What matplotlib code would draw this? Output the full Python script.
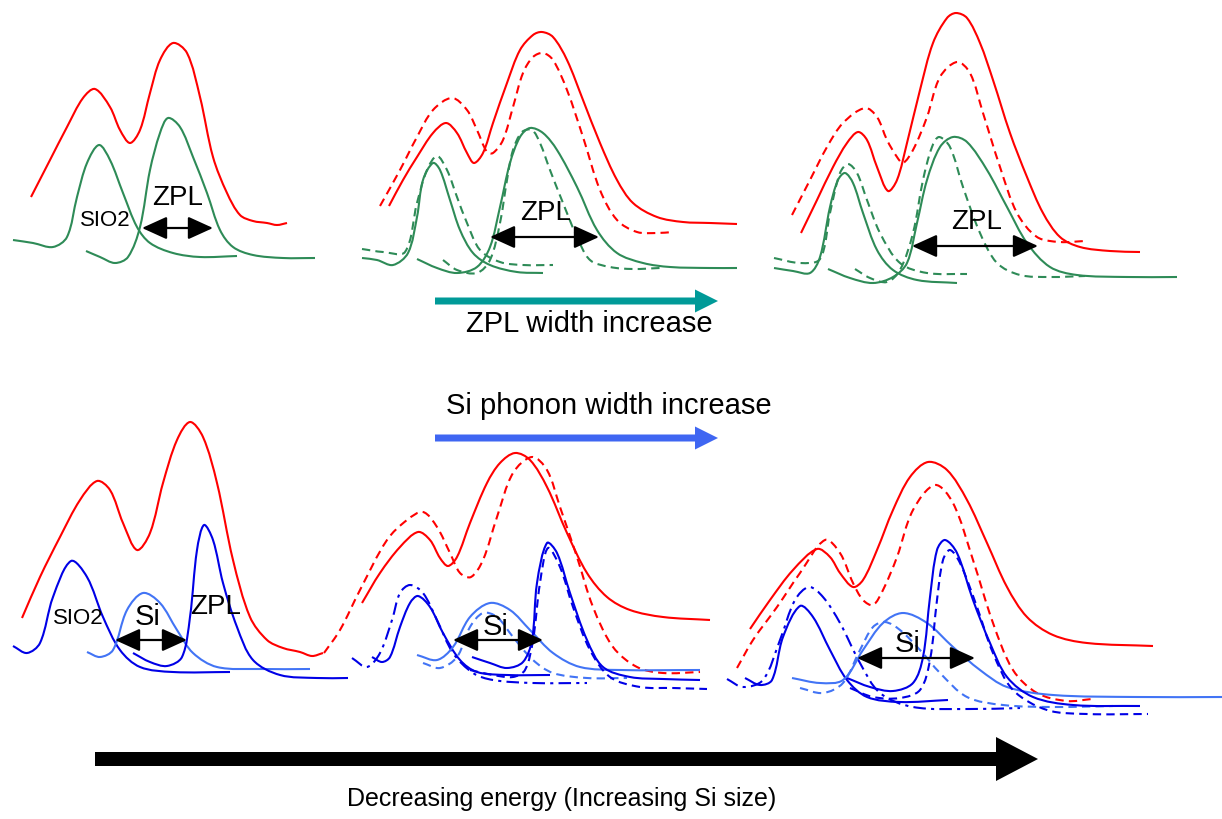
import matplotlib.pyplot as plt
import numpy as np
from matplotlib.path import Path
from matplotlib.patches import PathPatch

plt.rcParams['font.family'] = ['Liberation Sans', 'DejaVu Sans']

# curve key points (x, y) - y grows downwards
# top row, left panel
t1_red = [(31, 197), (50, 160), (67, 127), (83, 98), (95, 89), (110, 107), (120, 130), (130, 143),
          (140, 130), (150, 93), (160, 60), (173, 43), (187, 53), (200, 97), (213, 157), (227, 193),
          (240, 215), (253, 221), (267, 223), (277, 225), (287, 223)]
t1_sio2 = [(13, 240), (33, 243), (53, 247), (67, 237), (77, 197), (87, 163), (99, 145), (110, 160),
           (123, 193), (137, 227), (150, 243), (173, 253), (200, 257), (237, 256)]
t1_zpl = [(86, 251), (100, 257), (115, 263), (128, 257), (140, 227), (150, 170), (160, 133), (168, 118),
          (180, 127), (193, 157), (207, 193), (220, 230), (233, 247), (253, 255), (283, 258), (315, 258)]

# top row, middle panel
t2_red = [(389, 206), (403, 180), (417, 157), (433, 133), (446, 123), (457, 133), (467, 153), (474, 163),
          (483, 153), (493, 123), (507, 83), (520, 50), (533, 35), (542, 32), (553, 37), (567, 60),
          (583, 100), (600, 143), (617, 180), (633, 203), (657, 217), (683, 222), (710, 223), (737, 224)]
t2_red_d = [(380, 206), (400, 170), (417, 137), (433, 110), (452, 98), (467, 110), (477, 130), (487, 152),
            (493, 153), (503, 140), (513, 107), (523, 73), (533, 57), (543, 53), (553, 60), (567, 90),
            (583, 137), (600, 190), (617, 220), (637, 232), (657, 233), (673, 232)]
t2_sio2 = [(362, 258), (377, 260), (393, 265), (408, 253), (417, 217), (423, 180), (433, 163), (440, 170),
           (450, 200), (460, 230), (473, 253), (490, 265), (517, 272), (543, 273)]
t2_sio2_d = [(362, 249), (383, 252), (405, 252), (417, 203), (427, 170), (437, 156), (447, 170), (457, 197),
             (467, 223), (480, 250), (500, 262), (523, 265), (553, 265)]
t2_zpl = [(417, 259), (437, 268), (457, 273), (477, 267), (490, 247), (500, 207), (510, 163), (520, 137),
          (530, 128), (543, 133), (557, 150), (577, 187), (597, 230), (617, 253), (643, 263), (670, 267),
          (710, 268), (737, 268)]
t2_zpl_d = [(443, 260), (457, 270), (477, 273), (490, 260), (500, 223), (507, 180), (513, 150), (522, 132),
            (532, 130), (540, 143), (550, 170), (563, 203), (577, 237), (590, 260), (610, 267), (633, 269),
            (660, 268)]

# top row, right panel
t3_red = [(801, 233), (817, 200), (833, 167), (847, 143), (858, 132), (867, 140), (877, 167), (888, 191),
          (897, 180), (907, 143), (920, 90), (933, 43), (947, 18), (956, 13), (967, 18), (980, 43),
          (993, 80), (1010, 133), (1027, 177), (1043, 213), (1060, 237), (1080, 247), (1110, 251), (1140, 252)]
t3_red_d = [(792, 215), (810, 180), (827, 147), (843, 123), (865, 108), (877, 117), (887, 140), (897, 157),
            (903, 163), (913, 150), (927, 117), (940, 77), (957, 62), (970, 73), (983, 113), (1000, 167),
            (1017, 213), (1037, 237), (1060, 242), (1085, 241)]
t3_sio2 = [(774, 268), (793, 271), (810, 273), (820, 257), (830, 207), (838, 180), (845, 173), (853, 183),
           (863, 213), (877, 250), (893, 270), (917, 280), (957, 283)]
t3_sio2_d = [(774, 258), (800, 263), (820, 259), (830, 213), (840, 173), (848, 164), (857, 173), (867, 200),
             (880, 233), (900, 263), (927, 273), (967, 274)]
t3_zpl = [(828, 269), (850, 278), (873, 283), (893, 277), (907, 263), (917, 223), (927, 180), (940, 147),
          (953, 137), (967, 142), (987, 170), (1007, 207), (1027, 243), (1050, 267), (1077, 275),
          (1127, 277), (1177, 277)]
t3_zpl_d = [(855, 269), (870, 278), (887, 282), (900, 270), (913, 233), (923, 180), (932, 147), (939, 137),
            (950, 147), (963, 187), (980, 233), (997, 263), (1020, 275), (1050, 277), (1085, 276)]

# bottom row, left panel
b1_red = [(22, 618), (40, 577), (60, 537), (80, 500), (97, 481), (110, 490), (123, 523), (137, 550),
          (150, 533), (163, 483), (177, 440), (190, 422), (203, 437), (217, 483), (233, 560), (250, 617),
          (267, 640), (283, 648), (300, 652), (312, 656), (323, 653)]
b1_sio2 = [(13, 646), (27, 653), (40, 643), (53, 597), (71, 561), (87, 577), (103, 617), (120, 650),
           (140, 667), (173, 672), (230, 672)]
b1_si = [(87, 652), (100, 657), (113, 650), (127, 610), (143, 593), (160, 603), (177, 630), (193, 653),
         (217, 667), (260, 669), (310, 669)]
b1_zpl = [(133, 653), (150, 662), (167, 666), (182, 657), (190, 617), (197, 550), (204, 525), (213, 540),
          (223, 583), (237, 627), (253, 660), (280, 675), (317, 678), (348, 678)]

# bottom row, middle panel
b2_red = [(362, 603), (380, 573), (400, 547), (418, 532), (430, 540), (440, 558), (448, 566), (457, 557),
          (470, 523), (487, 483), (500, 463), (515, 453), (530, 460), (547, 487), (567, 533), (587, 573),
          (607, 597), (630, 610), (663, 617), (710, 620)]
b2_red_d = [(324, 653), (340, 630), (360, 590), (387, 540), (407, 520), (423, 512), (437, 527), (450, 553),
            (460, 573), (471, 577), (483, 560), (497, 517), (513, 473), (532, 457), (547, 470), (560, 507),
            (577, 557), (593, 607), (613, 647), (637, 667), (663, 673), (700, 672)]
b2_sio2 = [(372, 657), (382, 662), (390, 657), (400, 627), (410, 603), (418, 596), (430, 607), (443, 633),
           (460, 660), (477, 672), (507, 675), (550, 675)]
b2_sio2_dd = [(352, 658), (367, 667), (380, 653), (392, 620), (400, 593), (410, 585), (423, 593), (437, 620),
              (453, 653), (473, 673), (493, 680), (533, 683), (587, 683)]
b2_si = [(417, 655), (437, 660), (453, 647), (470, 617), (490, 603), (510, 610), (530, 630), (553, 653),
         (580, 667), (620, 670), (700, 670)]
b2_si_d = [(423, 663), (440, 668), (457, 657), (470, 627), (483, 613), (497, 617), (513, 637), (533, 660),
           (553, 673), (587, 678), (627, 678)]
b2_zpl = [(472, 657), (490, 663), (507, 668), (523, 662), (532, 640), (537, 583), (547, 543), (557, 553),
          (570, 593), (587, 640), (603, 667), (630, 677), (663, 679), (700, 680)]
b2_zpl_d = [(470, 670), (493, 675), (513, 677), (525, 670), (533, 640), (540, 583), (548, 548), (560, 567),
            (573, 607), (590, 650), (610, 677), (640, 687), (673, 688), (707, 689)]

# bottom row, right panel
b3_red = [(750, 629), (770, 600), (793, 570), (817, 549), (830, 557), (840, 573), (853, 587), (863, 580),
          (877, 550), (893, 510), (910, 477), (928, 462), (947, 470), (967, 500), (987, 543), (1007, 587),
          (1027, 617), (1053, 635), (1087, 643), (1153, 646)]
b3_red_d = [(737, 668), (753, 640), (777, 607), (800, 573), (825, 540), (840, 553), (853, 583), (863, 600),
            (873, 605), (883, 590), (897, 557), (913, 510), (935, 485), (953, 503), (973, 560), (993, 623),
            (1013, 670), (1037, 693), (1067, 701), (1092, 699)]
b3_sio2 = [(745, 678), (760, 685), (772, 680), (783, 637), (800, 606), (813, 617), (830, 650), (847, 680),
           (867, 697), (900, 702), (948, 700)]
b3_sio2_dd = [(727, 679), (743, 687), (763, 680), (780, 640), (795, 600), (809, 587), (823, 597), (840, 623),
              (860, 663), (880, 693), (913, 707), (970, 709), (1020, 708)]
b3_si = [(792, 678), (820, 683), (843, 680), (863, 650), (883, 623), (903, 613), (927, 623), (953, 647),
         (980, 670), (1007, 687), (1053, 695), (1137, 697), (1222, 697)]
b3_si_d = [(800, 688), (823, 693), (843, 683), (860, 650), (873, 627), (885, 622), (900, 630), (920, 650),
           (940, 673), (967, 697), (1003, 705), (1053, 707), (1113, 706)]
b3_zpl = [(847, 678), (870, 687), (893, 691), (913, 683), (923, 657), (930, 597), (937, 550), (945, 540),
          (957, 553), (973, 600), (990, 643), (1007, 677), (1033, 697), (1073, 705), (1140, 706)]
b3_zpl_d = [(850, 688), (873, 697), (900, 698), (920, 690), (930, 660), (937, 600), (943, 560), (950, 550),
            (960, 563), (977, 607), (993, 653), (1013, 690), (1047, 710), (1087, 714), (1148, 714)]

# width markers (double arrows) and labels
width_arrows = [((142, 228), (213, 228)), ((490, 237), (599, 237)), ((912, 246), (1038, 246)),
                ((115, 640), (187, 640)), ((453, 640), (543, 640)), ((857, 658), (975, 658))]
peak_labels = [('SIO2', 105, 220, 16), ('ZPL', 178, 198, 20), ('ZPL', 546, 213, 20), ('ZPL', 977, 222, 20),
               ('SIO2', 78, 619, 16), ('Si', 148, 617, 21), ('ZPL', 216, 607, 20),
               ('Si', 496, 627, 21), ('Si', 908, 644, 21)]

RED = '#FF0000'
GREEN = '#2E8B57'
BLUE = '#0000E6'
LBLUE = '#4274F5'
TEAL = '#009A98'
ARROW_BLUE = '#3F66F2'

DASH = (0, (4, 2.5))
DASHDOT = (0, (6, 2.5, 1.5, 2.5))


def smooth_path(pts):
    # cubic hermite through the read points (chord-length tangents), drawn as bezier
    p = np.asarray(pts, float)
    seg = np.hypot(*np.diff(p, axis=0).T)
    t = np.concatenate([[0], np.cumsum(seg)])
    m = np.zeros_like(p)
    m[1:-1] = (p[2:] - p[:-2]) / (t[2:] - t[:-2])[:, None]
    m[0] = (p[1] - p[0]) / seg[0]
    m[-1] = (p[-1] - p[-2]) / seg[-1]
    verts = [p[0]]
    for i in range(len(p) - 1):
        h = seg[i] / 3
        verts += [p[i] + m[i] * h, p[i + 1] - m[i + 1] * h, p[i + 1]]
    codes = [Path.MOVETO] + [Path.CURVE4] * (len(verts) - 1)
    return Path(verts, codes)


def curve(ax, pts, color, ls='-', lw=1.5):
    ax.add_patch(PathPatch(smooth_path(pts), fill=False, edgecolor=color, lw=lw,
                           linestyle=ls, capstyle='butt', joinstyle='round'))


fig = plt.figure(figsize=(12.22, 8.19), dpi=100)
ax = fig.add_axes([0, 0, 1, 1])
ax.set_xlim(0, 1222)
ax.set_ylim(819, 0)
ax.axis('off')

curves = [
    (t1_red, RED, '-'), (t1_sio2, GREEN, '-'), (t1_zpl, GREEN, '-'),
    (t2_red, RED, '-'), (t2_red_d, RED, DASH), (t2_sio2, GREEN, '-'), (t2_sio2_d, GREEN, DASH),
    (t2_zpl, GREEN, '-'), (t2_zpl_d, GREEN, DASH),
    (t3_red, RED, '-'), (t3_red_d, RED, DASH), (t3_sio2, GREEN, '-'), (t3_sio2_d, GREEN, DASH),
    (t3_zpl, GREEN, '-'), (t3_zpl_d, GREEN, DASH),
    (b1_red, RED, '-'), (b1_sio2, BLUE, '-'), (b1_si, LBLUE, '-'), (b1_zpl, BLUE, '-'),
    (b2_red, RED, '-'), (b2_red_d, RED, DASH), (b2_sio2, BLUE, '-'), (b2_sio2_dd, BLUE, DASHDOT),
    (b2_si, LBLUE, '-'), (b2_si_d, LBLUE, DASH), (b2_zpl, BLUE, '-'), (b2_zpl_d, BLUE, DASH),
    (b3_red, RED, '-'), (b3_red_d, RED, DASH), (b3_sio2, BLUE, '-'), (b3_sio2_dd, BLUE, DASHDOT),
    (b3_si, LBLUE, '-'), (b3_si_d, LBLUE, DASH), (b3_zpl, BLUE, '-'), (b3_zpl_d, BLUE, DASH),
]
for pts, col, ls in curves:
    curve(ax, pts, col, ls)

for (x0, y0), (x1, y1) in width_arrows:
    ax.annotate('', xy=(x1, y1), xytext=(x0, y0),
                arrowprops=dict(arrowstyle='<|-|>,head_length=0.55,head_width=0.25',
                                mutation_scale=28, color='black', lw=1.6,
                                shrinkA=0, shrinkB=0))

for txt, x, y, fs in peak_labels:
    ax.text(x, y, txt, fontsize=fs, ha='center', va='center', color='black')

# trend arrows
ax.arrow(435, 301, 283, 0, width=7, head_width=23, head_length=23,
         length_includes_head=True, color=TEAL, lw=0)
ax.arrow(435, 438, 283, 0, width=7, head_width=23, head_length=23,
         length_includes_head=True, color=ARROW_BLUE, lw=0)
ax.arrow(95, 759, 943, 0, width=14, head_width=44, head_length=42,
         length_includes_head=True, color='black', lw=0)

ax.text(589, 324, 'ZPL width increase', fontsize=21, ha='center', va='center')
ax.text(609, 406, 'Si phonon width increase', fontsize=21, ha='center', va='center')
ax.text(562, 799, 'Decreasing energy (Increasing Si size)', fontsize=18, ha='center', va='center')

fig.savefig('out.png', dpi=100)
